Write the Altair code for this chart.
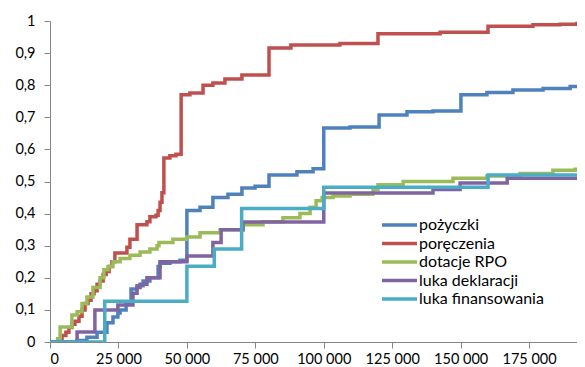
import altair as alt
import pandas as pd

series = ["pożyczki", "poręczenia", "dotacje RPO", "luka deklaracji", "luka finansowania"]
colors = ["#4F81BD", "#C0504D", "#9BBB59", "#8064A2", "#4BACC6"]

x_ticks = [0, 25000, 50000, 75000, 100000, 125000, 150000, 175000]
y_ticks = [0, 0.1, 0.2, 0.3, 0.4, 0.5, 0.6, 0.7, 0.8, 0.9, 1.0]
X_MAX = 192500
X_END = 195000

pozyczki_x = [0, 9900, 13500, 17200, 20800, 23000, 24800, 25600, 27800, 29600, 31800, 34000, 36500,
              39500, 40200, 43800, 47500, 50000, 54800, 59500, 65000, 70100, 74900, 80000, 90200,
              96100, 100000, 109600, 120200, 130400, 139900, 150100, 159600, 169100, 180100, 190000]
pozyczki_y = [0, 0.005, 0.015, 0.03, 0.06, 0.078, 0.09, 0.1, 0.12, 0.165, 0.175, 0.19, 0.2,
              0.235, 0.245, 0.25, 0.255, 0.41, 0.42, 0.45, 0.46, 0.48, 0.485, 0.52, 0.53,
              0.54, 0.667, 0.67, 0.707, 0.717, 0.72, 0.77, 0.777, 0.785, 0.79, 0.796]

poreczenia_x = [0, 2900, 4400, 5800, 6900, 8000, 9100, 10600, 11700, 12800, 13900, 15000, 16100,
                17200, 18300, 19400, 20500, 21600, 22600, 23700, 28100, 29200, 31800, 35400, 36500,
                38700, 39500, 40200, 40900, 41600, 43800, 46000, 47900, 51100, 55900, 59500, 63900,
                70100, 80000, 88000, 105900, 119800, 142500, 160000, 176400, 186300, 192500]
poreczenia_y = [0, 0.01, 0.02, 0.03, 0.045, 0.055, 0.065, 0.08, 0.1, 0.12, 0.13, 0.15, 0.16,
                0.18, 0.19, 0.21, 0.22, 0.235, 0.25, 0.277, 0.295, 0.32, 0.365, 0.375, 0.39,
                0.395, 0.41, 0.435, 0.465, 0.573, 0.58, 0.585, 0.77, 0.776, 0.8, 0.807, 0.819,
                0.832, 0.916, 0.925, 0.93, 0.96, 0.965, 0.984, 0.988, 0.99, 0.992]

dotacje_x = [0, 2900, 3700, 8000, 9900, 11700, 13500, 15700, 18300, 19700, 21200, 23000, 25600,
             29200, 32900, 36500, 39100, 39800, 44900, 50000, 54800, 62100, 70500, 77800, 85100,
             91300, 95000, 97200, 99400, 103400, 109600, 118000, 119800, 129000, 147200, 159600,
             171700, 183700, 191800]
dotacje_y = [0, 0.01, 0.047, 0.084, 0.094, 0.12, 0.14, 0.17, 0.2, 0.225, 0.235, 0.25, 0.26,
             0.27, 0.28, 0.29, 0.3, 0.31, 0.32, 0.327, 0.34, 0.35, 0.365, 0.375, 0.387,
             0.4, 0.42, 0.44, 0.45, 0.455, 0.46, 0.475, 0.49, 0.5, 0.51, 0.517,
             0.525, 0.535, 0.538]

deklaracji_x = [0, 9900, 16400, 24800, 30300, 31800, 32900, 35400, 40200, 50000, 59500, 62500,
                70500, 100000, 139900, 149800, 167000]
deklaracji_y = [0, 0.031, 0.1, 0.115, 0.152, 0.17, 0.18, 0.2, 0.25, 0.268, 0.31, 0.35,
                0.374, 0.464, 0.475, 0.495, 0.51]

finansowania_x = [0, 20000, 50000, 60000, 70000, 100000, 160000]
finansowania_y = [0, 0.127, 0.236, 0.29, 0.416, 0.482, 0.52]

all_x = [pozyczki_x, poreczenia_x, dotacje_x, deklaracji_x, finansowania_x]
all_y = [pozyczki_y, poreczenia_y, dotacje_y, deklaracji_y, finansowania_y]

rows = []
for order, (name, xs, ys) in enumerate(zip(series, all_x, all_y)):
    for x, y in zip(xs, ys):
        rows.append({"series": name, "x": x, "y": y, "k": order})
    rows.append({"series": name, "x": X_END, "y": ys[-1], "k": order})
df = pd.DataFrame(rows)

FONT = "Lato"
AX = "#868686"

chart = alt.Chart(df).mark_line(interpolate="step-after", strokeWidth=3.5, clip=True).encode(
    x=alt.X("x:Q",
            scale=alt.Scale(domain=[0, X_MAX], nice=False, zero=True),
            axis=alt.Axis(values=x_ticks, title=None, grid=False,
                          labelExpr="replace(format(datum.value, ','), ',', ' ')",
                          domainColor=AX, tickColor=AX, tickSize=6, labelPadding=4,
                          labelFont=FONT, labelFontSize=14.5, labelColor="#000000")),
    y=alt.Y("y:Q",
            scale=alt.Scale(domain=[0, 1], nice=False),
            axis=alt.Axis(values=y_ticks, title=None, grid=False,
                          labelExpr="replace(format(datum.value, '.1~f'), '.', ',')",
                          domainColor=AX, tickColor=AX, tickSize=6, labelPadding=9,
                          labelFont=FONT, labelFontSize=14.5, labelColor="#000000")),
    color=alt.Color("series:N",
                    scale=alt.Scale(domain=series, range=colors),
                    legend=alt.Legend(title=None, orient="none", legendX=330, legendY=196,
                                      symbolType="stroke", symbolSize=1225, symbolStrokeWidth=3.5,
                                      labelFont=FONT, labelFontSize=16, labelColor="#000000",
                                      clipHeight=16, rowPadding=2.5, labelOffset=0, padding=0)),
    detail="k:O",
).properties(
    width=527, height=321,
    autosize=alt.AutoSizeParams(type="none"),
    padding={"left": 42, "top": 13, "right": 0, "bottom": 25},
).configure_view(stroke=None)

chart.save("out.html", embed_options={"renderer": "svg", "actions": False})
